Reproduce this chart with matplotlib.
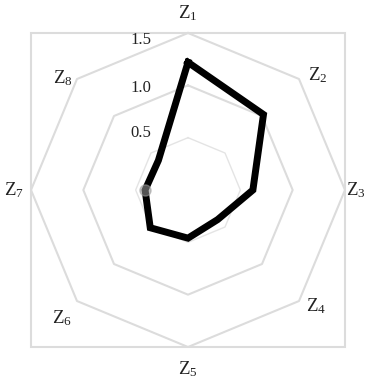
import numpy as np
import matplotlib
matplotlib.use("Agg")
import matplotlib.pyplot as plt
from matplotlib.patches import Rectangle

plt.rcParams["font.family"] = ["Liberation Serif", "DejaVu Serif"]
plt.rcParams["mathtext.fontset"] = "custom"
plt.rcParams["mathtext.rm"] = "Liberation Serif"
plt.rcParams["mathtext.it"] = "Liberation Serif"

# indicator names and scores (clockwise from top)
labels = [r"$\mathrm{Z}_{1}$", r"$\mathrm{Z}_{2}$", r"$\mathrm{Z}_{3}$", r"$\mathrm{Z}_{4}$",
          r"$\mathrm{Z}_{5}$", r"$\mathrm{Z}_{6}$", r"$\mathrm{Z}_{7}$", r"$\mathrm{Z}_{8}$"]
values = [1.22, 1.02, 0.62, 0.40, 0.46, 0.51, 0.41, 0.40]
ring_values = [0.5, 1.0, 1.5]
ring_labels = ["0.5", "1.0", "1.5"]

# small nudges (points) so labels sit where the original put them
label_dx = [0, 5, -4, 4, 0, -2, 0, -2]
label_dy = [2, -6, 0, 5, -4, -4, 0, -8]
ring_dy = [3.5, -2, -5]

n = len(labels)
angles = np.arange(n) * 2 * np.pi / n
closed_angles = np.append(angles, angles[0])

fig = plt.figure(figsize=(3.70, 3.79), dpi=100)
ax = fig.add_axes([0.0838, 0.0844, 0.8486, 0.8285], projection="polar")
ax.set_theta_zero_location("N")
ax.set_theta_direction(-1)
ax.set_ylim(0, 1.5)
ax.grid(False)
ax.spines["polar"].set_visible(False)
ax.set_xticks([])
ax.set_yticks([])
ax.patch.set_alpha(0)

# octagon grid rings
for r in ring_values:
    lw = 1.0 if r == ring_values[0] else 1.5
    col = "#e4e4e4" if r == ring_values[0] else "#dcdcdc"
    ax.plot(closed_angles, [r] * (n + 1), color=col, lw=lw, zorder=1, clip_on=False)

# square frame around the chart
ax.add_patch(Rectangle((0, 0), 1, 1, transform=ax.transAxes, fill=False,
                       edgecolor="#dcdcdc", lw=1.5, clip_on=False, zorder=0))

# ring value labels
for r, txt, dy in zip(ring_values, ring_labels, ring_dy):
    ax.annotate(txt, xy=(0, r), xytext=(-34, dy), textcoords="offset points",
                ha="center", va="center", fontsize=12, color="#222222")

# axis labels
for a, lab, dx, dy in zip(angles, labels, label_dx, label_dy):
    ax.annotate(lab, xy=(a, 1.66), xytext=(dx, dy), textcoords="offset points",
                ha="center", va="center", fontsize=13.5, color="#222222",
                annotation_clip=False)

# data polygon
closed_vals = values + values[:1]
ax.plot(closed_angles, closed_vals, color="black", lw=5, solid_joinstyle="miter",
        zorder=3, clip_on=False)
ax.plot(angles[6], values[6], marker="o", ms=8, mfc="#9a9a9a", mec="#9a9a9a",
        alpha=0.55, zorder=4)

fig.savefig("out.png", dpi=100)
